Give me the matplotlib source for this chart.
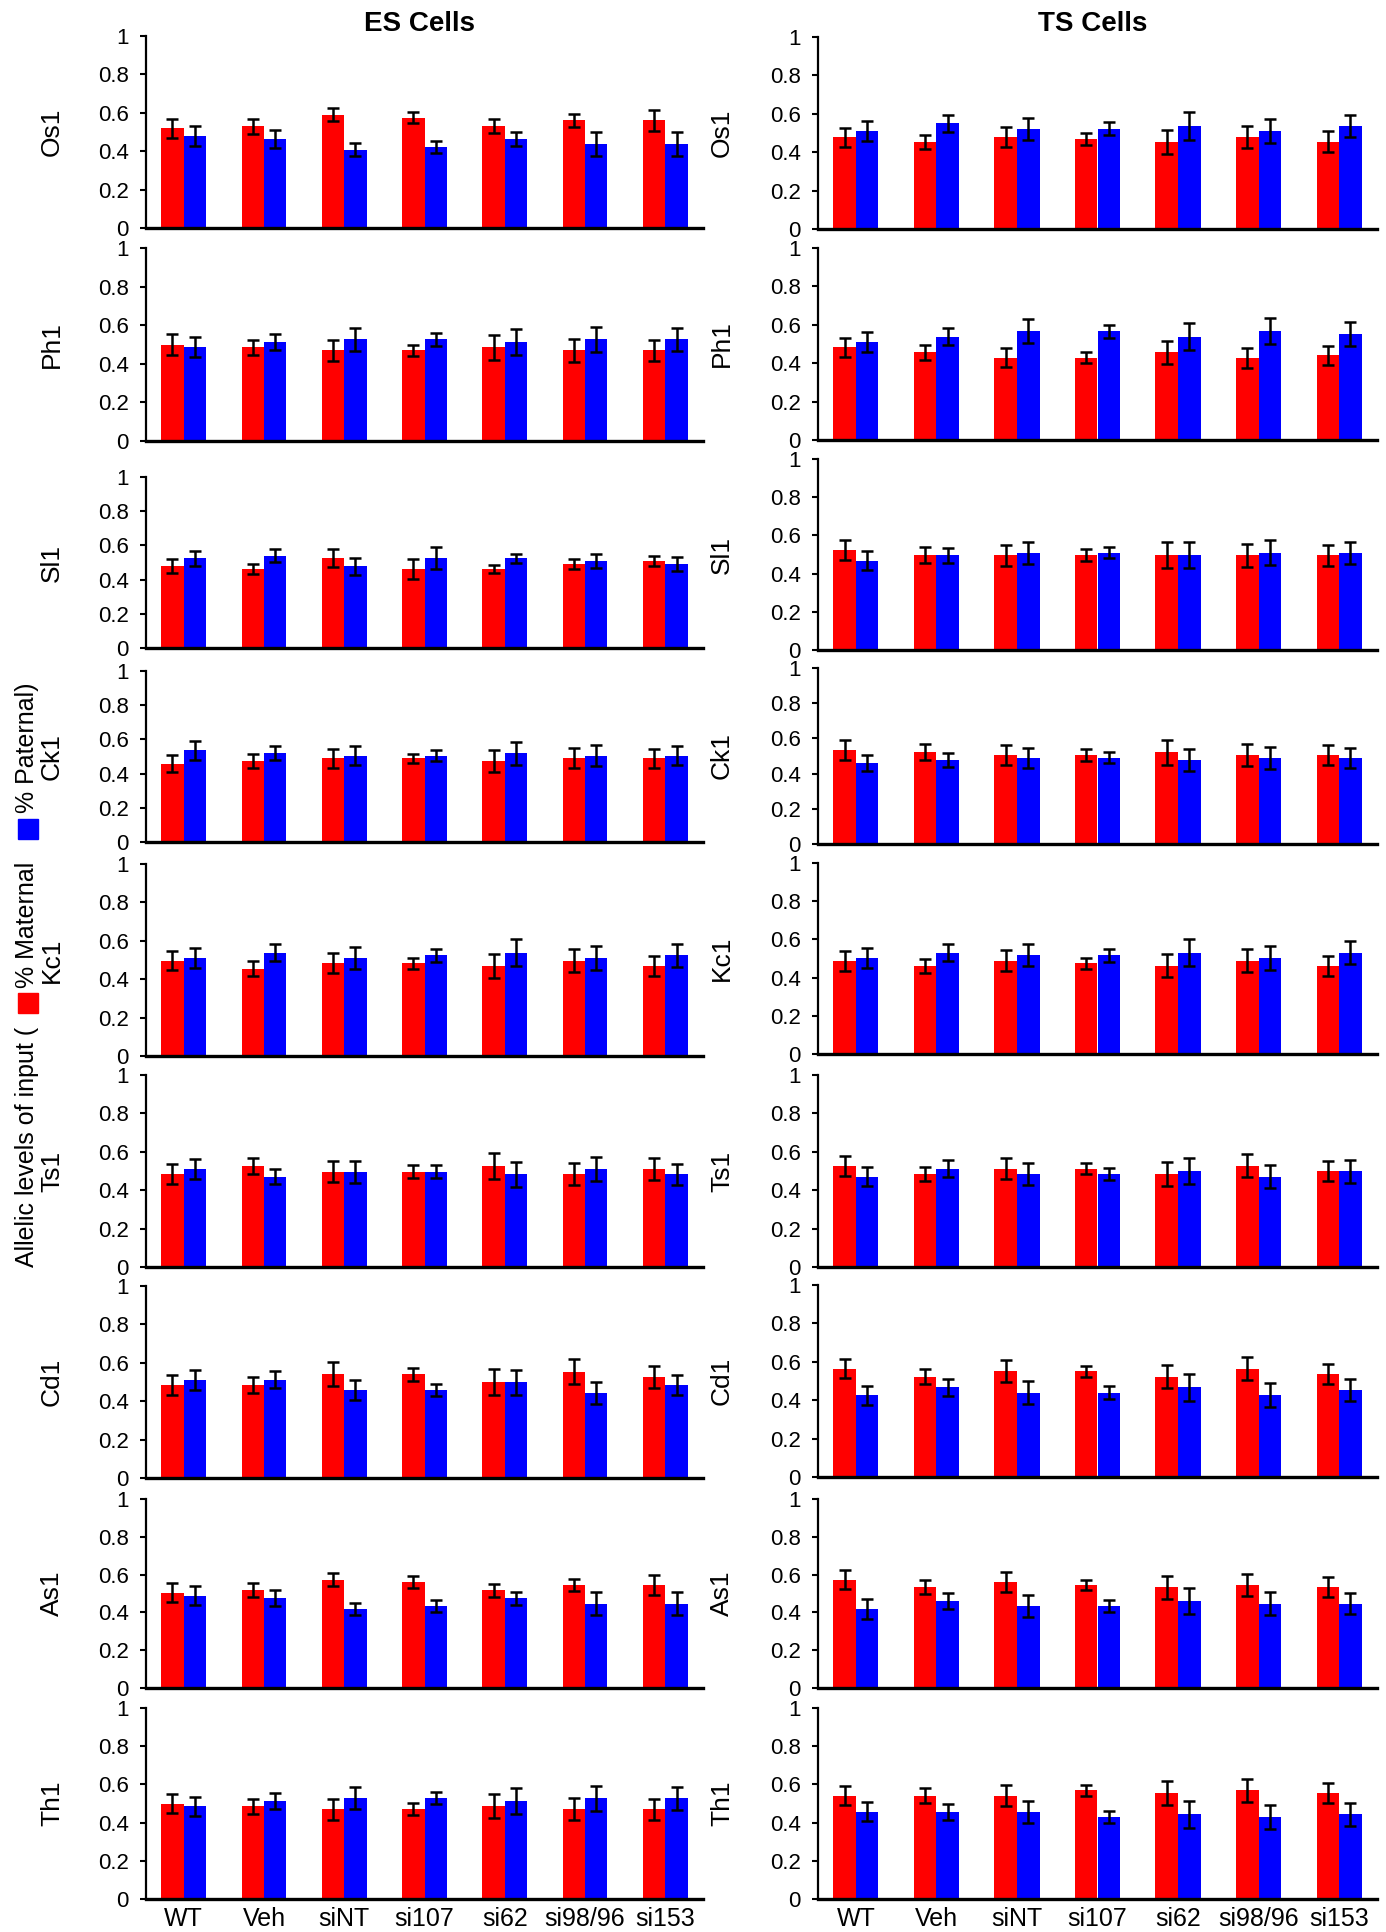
import numpy as np
import matplotlib
matplotlib.use('Agg')
import matplotlib.pyplot as plt
from matplotlib.patches import Rectangle

# ---- data ----
genes = ['Os1', 'Ph1', 'Sl1', 'Ck1', 'Kc1', 'Ts1', 'Cd1', 'As1', 'Th1']
groups = ['WT', 'Veh', 'siNT', 'si107', 'si62', 'si98/96', 'si153']

es_mat = [
    [0.52, 0.53, 0.59, 0.575, 0.53, 0.56, 0.56],
    [0.50, 0.485, 0.47, 0.47, 0.485, 0.47, 0.47],
    [0.478, 0.462, 0.524, 0.462, 0.462, 0.493, 0.509],
    [0.458, 0.474, 0.489, 0.489, 0.474, 0.489, 0.489],
    [0.497, 0.455, 0.483, 0.483, 0.469, 0.497, 0.469],
    [0.483, 0.525, 0.497, 0.497, 0.525, 0.483, 0.511],
    [0.484, 0.484, 0.54, 0.54, 0.498, 0.554, 0.526],
    [0.504, 0.518, 0.574, 0.56, 0.518, 0.546, 0.546],
    [0.499, 0.485, 0.471, 0.471, 0.485, 0.471, 0.471],
]
es_pat = [
    [0.478, 0.464, 0.407, 0.423, 0.464, 0.437, 0.437],
    [0.485, 0.513, 0.527, 0.527, 0.513, 0.527, 0.527],
    [0.524, 0.54, 0.478, 0.524, 0.524, 0.509, 0.493],
    [0.536, 0.52, 0.505, 0.505, 0.52, 0.505, 0.505],
    [0.51, 0.538, 0.51, 0.524, 0.538, 0.51, 0.524],
    [0.511, 0.47, 0.497, 0.497, 0.483, 0.511, 0.483],
    [0.512, 0.512, 0.457, 0.457, 0.498, 0.443, 0.484],
    [0.489, 0.475, 0.419, 0.433, 0.475, 0.447, 0.447],
    [0.485, 0.513, 0.527, 0.527, 0.513, 0.527, 0.527],
]
es_mat_err = [
    [0.05, 0.038, 0.035, 0.03, 0.036, 0.035, 0.054],
    [0.054, 0.04, 0.053, 0.03, 0.065, 0.059, 0.054],
    [0.04, 0.032, 0.053, 0.058, 0.024, 0.03, 0.028],
    [0.048, 0.039, 0.055, 0.028, 0.062, 0.058, 0.055],
    [0.051, 0.038, 0.053, 0.03, 0.062, 0.06, 0.052],
    [0.051, 0.043, 0.055, 0.032, 0.069, 0.058, 0.058],
    [0.05, 0.041, 0.062, 0.033, 0.068, 0.066, 0.056],
    [0.049, 0.038, 0.033, 0.03, 0.034, 0.033, 0.052],
    [0.051, 0.041, 0.055, 0.03, 0.063, 0.059, 0.055],
]
es_pat_err = [
    [0.052, 0.046, 0.034, 0.031, 0.036, 0.063, 0.061],
    [0.052, 0.043, 0.059, 0.034, 0.068, 0.066, 0.06],
    [0.043, 0.039, 0.05, 0.064, 0.028, 0.043, 0.04],
    [0.055, 0.043, 0.057, 0.033, 0.067, 0.062, 0.057],
    [0.051, 0.043, 0.057, 0.033, 0.07, 0.061, 0.06],
    [0.053, 0.039, 0.057, 0.033, 0.065, 0.062, 0.054],
    [0.052, 0.043, 0.053, 0.03, 0.067, 0.056, 0.054],
    [0.05, 0.043, 0.033, 0.031, 0.034, 0.061, 0.059],
    [0.05, 0.043, 0.058, 0.032, 0.07, 0.065, 0.059],
]

ts_mat = [
    [0.478, 0.454, 0.478, 0.468, 0.454, 0.478, 0.454],
    [0.483, 0.456, 0.428, 0.428, 0.456, 0.428, 0.442],
    [0.524, 0.496, 0.496, 0.496, 0.496, 0.496, 0.496],
    [0.536, 0.521, 0.506, 0.506, 0.521, 0.506, 0.506],
    [0.489, 0.461, 0.489, 0.475, 0.461, 0.489, 0.461],
    [0.527, 0.485, 0.513, 0.513, 0.485, 0.527, 0.499],
    [0.565, 0.523, 0.551, 0.551, 0.523, 0.565, 0.537],
    [0.574, 0.532, 0.56, 0.546, 0.532, 0.546, 0.532],
    [0.541, 0.541, 0.541, 0.569, 0.555, 0.569, 0.555],
]
ts_pat = [
    [0.51, 0.551, 0.523, 0.523, 0.537, 0.51, 0.537],
    [0.511, 0.539, 0.567, 0.567, 0.539, 0.567, 0.553],
    [0.468, 0.496, 0.51, 0.51, 0.496, 0.51, 0.51],
    [0.46, 0.475, 0.49, 0.49, 0.475, 0.49, 0.49],
    [0.503, 0.53, 0.517, 0.517, 0.53, 0.503, 0.53],
    [0.471, 0.513, 0.485, 0.485, 0.499, 0.471, 0.499],
    [0.426, 0.468, 0.44, 0.44, 0.468, 0.426, 0.454],
    [0.419, 0.461, 0.433, 0.433, 0.461, 0.447, 0.447],
    [0.457, 0.457, 0.457, 0.429, 0.443, 0.429, 0.443],
]
ts_mat_err = [
    [0.05, 0.037, 0.053, 0.03, 0.062, 0.058, 0.054],
    [0.05, 0.037, 0.05, 0.029, 0.059, 0.053, 0.049],
    [0.054, 0.042, 0.056, 0.032, 0.068, 0.061, 0.056],
    [0.057, 0.045, 0.059, 0.032, 0.07, 0.063, 0.059],
    [0.052, 0.037, 0.054, 0.029, 0.06, 0.06, 0.053],
    [0.051, 0.037, 0.054, 0.028, 0.061, 0.06, 0.052],
    [0.05, 0.038, 0.056, 0.029, 0.062, 0.06, 0.053],
    [0.051, 0.037, 0.053, 0.028, 0.061, 0.059, 0.053],
    [0.051, 0.038, 0.055, 0.03, 0.063, 0.061, 0.052],
]
ts_pat_err = [
    [0.05, 0.045, 0.057, 0.032, 0.071, 0.062, 0.059],
    [0.051, 0.044, 0.062, 0.034, 0.07, 0.068, 0.062],
    [0.05, 0.04, 0.058, 0.03, 0.068, 0.064, 0.058],
    [0.047, 0.04, 0.056, 0.03, 0.063, 0.063, 0.056],
    [0.051, 0.045, 0.058, 0.033, 0.07, 0.062, 0.061],
    [0.051, 0.043, 0.057, 0.031, 0.069, 0.062, 0.06],
    [0.05, 0.045, 0.058, 0.034, 0.07, 0.061, 0.059],
    [0.052, 0.044, 0.057, 0.032, 0.07, 0.061, 0.058],
    [0.051, 0.043, 0.058, 0.031, 0.071, 0.062, 0.059],
]

# ---- layout (pixels, measured from top of figure) ----
W, H = 1386, 1932
es_rows = [(36, 228), (248, 441), (477, 648), (671, 842), (864, 1056),
           (1075, 1267), (1286, 1478), (1499, 1688), (1708, 1899)]
ts_rows = [(37, 229), (248, 440), (459, 650), (668, 844), (863, 1054),
           (1075, 1267), (1285, 1477), (1499, 1688), (1708, 1899)]
es_x = (146, 703)
ts_x = (818, 1377)

plt.rcParams['font.family'] = 'Liberation Sans'

RED = '#ff0000'
BLUE = '#0000ff'
bw = 0.28

fig = plt.figure(figsize=(W / 100, H / 100), dpi=100)


def draw_panel(xpx, rowpx, mat, pat, mat_err, pat_err, gene, last, label_px):
    left = xpx[0] / W
    width = (xpx[1] - xpx[0]) / W
    bottom = (H - rowpx[1]) / H
    height = (rowpx[1] - rowpx[0]) / H
    ax = fig.add_axes([left, bottom, width, height])
    x = np.arange(len(groups))
    ekw = dict(ecolor='black', elinewidth=1.8, capsize=4.5, capthick=1.8)
    ax.bar(x - bw / 2, mat, bw, color=RED, yerr=mat_err, error_kw=ekw)
    ax.bar(x + bw / 2, pat, bw, color=BLUE, yerr=pat_err, error_kw=ekw)
    ax.set_ylim(0, 1)
    ax.set_xlim(-0.47, 6.47)
    ax.set_yticks([0, 0.2, 0.4, 0.6, 0.8, 1])
    ax.set_yticklabels(['0', '0.2', '0.4', '0.6', '0.8', '1'], fontsize=16)
    ax.tick_params(axis='y', direction='out', length=4.5, width=1.5, pad=8)
    for s in ['top', 'right']:
        ax.spines[s].set_visible(False)
    ax.spines['left'].set_linewidth(1.6)
    ax.spines['bottom'].set_linewidth(2.4)
    if last:
        ax.set_xticks(x)
        ax.set_xticklabels(groups, fontsize=18)
        ax.tick_params(axis='x', length=0, pad=6)
    else:
        ax.set_xticks([])
    ax.set_ylabel(gene, fontsize=19)
    ax.yaxis.set_label_coords(-(xpx[0] - label_px) / (xpx[1] - xpx[0]), 0.5)
    return ax


for i, g in enumerate(genes):
    last = i == len(genes) - 1
    draw_panel(es_x, es_rows[i], es_mat[i], es_pat[i], es_mat_err[i],
               es_pat_err[i], g, last, 64)
    draw_panel(ts_x, ts_rows[i], ts_mat[i], ts_pat[i], ts_mat_err[i],
               ts_pat_err[i], g, last, 734)

# column titles
fig.text(419 / W, 1 - 24 / H, 'ES Cells', ha='center', va='center',
         fontsize=20, fontweight='bold')
fig.text(1093 / W, 1 - 24 / H, 'TS Cells', ha='center', va='center',
         fontsize=20, fontweight='bold')

# shared y label with coloured keys
lx = 27 / W
tkw = dict(rotation=90, rotation_mode='anchor', ha='left', va='center', fontsize=18)
fig.text(lx, 1 - 1267 / H, 'Allelic levels of input (', **tkw)
fig.text(lx, 1 - 988 / H, '% Maternal', **tkw)
fig.text(lx, 1 - 813 / H, '% Paternal)', **tkw)
fig.patches.append(Rectangle((18 / W, 1 - 1013 / H), 20 / W, 20 / H,
                             transform=fig.transFigure, color=RED, figure=fig))
fig.patches.append(Rectangle((18 / W, 1 - 839 / H), 20 / W, 20 / H,
                             transform=fig.transFigure, color=BLUE, figure=fig))

fig.savefig('out.png', dpi=100)
